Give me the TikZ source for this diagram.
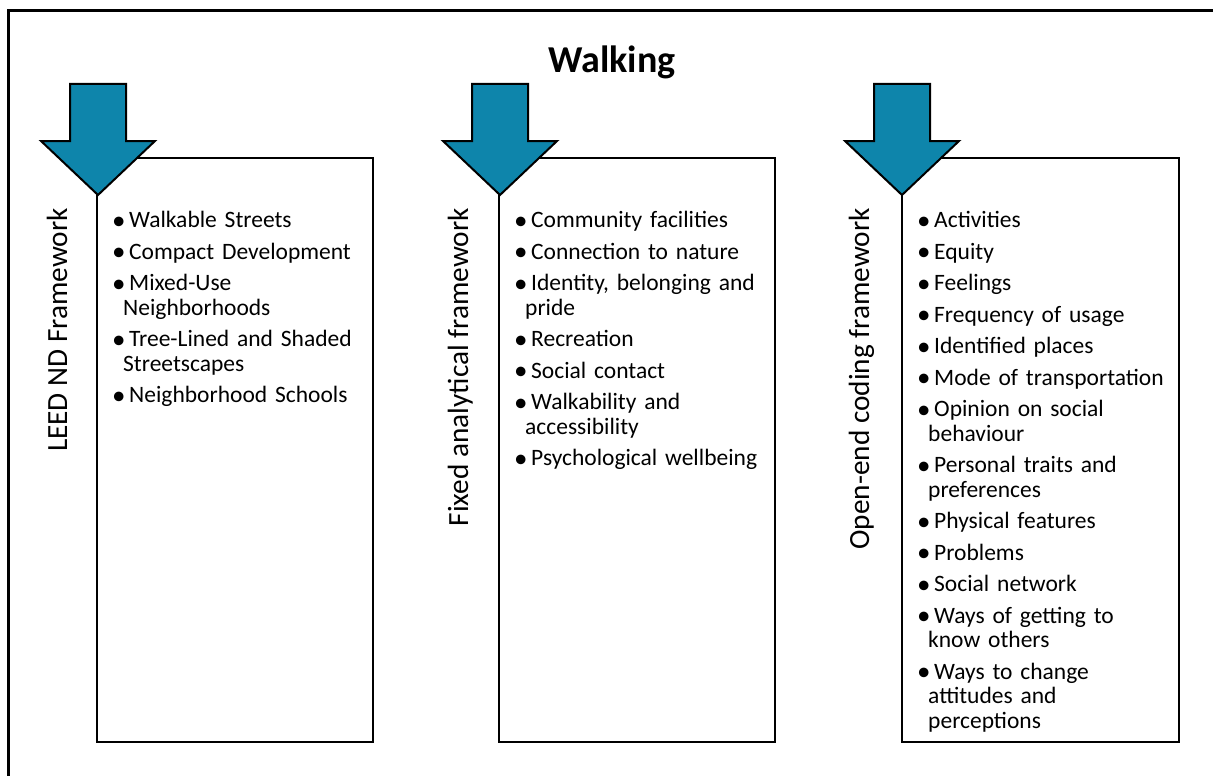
\documentclass[tikz,border=0pt]{standalone}
\usepackage{fontspec}
\setmainfont{Carlito}
\usepackage{xcolor}
\usepackage{tikz}

\definecolor{arrowblue}{RGB}{14,133,171}

% one bullet point with hanging indent
\newcommand{\bigbullet}{\raisebox{-1.5pt}{\fontsize{27}{27}\selectfont\textbullet}}
\newcommand{\bitem}[1]{\par\noindent\hangindent=11pt\hangafter=1\rule{0pt}{18pt}\makebox[11pt][l]{\bigbullet}\hspace{6pt}#1}
\newcommand{\listfont}{\fontsize{23.5}{24.5}\selectfont\setlength{\parskip}{7pt}}

\tikzset{
  framebox/.style={draw=black, line width=2.2pt, outer sep=0pt, anchor=north west, minimum width=276pt, minimum height=584pt},
  bluearrow/.style={fill=arrowblue, draw=black, line width=2pt, line join=miter},
  framelabel/.style={rotate=90, anchor=base east, inner sep=0pt, font=\fontsize{29.3}{29.3}\selectfont},
  itemlist/.style={anchor=north west, inner sep=0pt, text width=262pt, align=left, font=\listfont}
}

\begin{document}
\begin{tikzpicture}[x=1pt,y=-1pt]
\useasboundingbox (0,0) rectangle (1213,776);
\draw[line width=3pt] (8,780) -- (8,11) -- (1217,11);
\node[anchor=base, font=\fontsize{38}{38}\selectfont\bfseries] (title) at (612,73) {Walking};

% the three boxes
\node[framebox] (leed) at (97,158) {};
\node[framebox] (fixed) at (499,158) {};
\node[framebox, minimum width=277pt] (openend) at (902,158) {};

% arrows on top of the boxes
\foreach \cx in {98,500,902}
  \draw[bluearrow] (\cx-28,84) -- (\cx+28,84) -- (\cx+28,141) -- (\cx+57,141) -- (\cx,195) -- (\cx-57,141) -- (\cx-28,141) -- cycle;

\node[framelabel] (leedlabel) at (67,208) {LEED ND Framework};
\node[framelabel] (fixedlabel) at (468,208) {Fixed analytical framework};
\node[framelabel] (openendlabel) at (869,208) {Open-end coding framework};

\node[itemlist] (leeditems) at (112,196) {%
  \bitem{Walkable Streets}
  \bitem{Compact Development}
  \bitem{Mixed-Use\newline Neighborhoods}
  \bitem{Tree-Lined and Shaded\newline Streetscapes}
  \bitem{Neighborhood Schools}\par};
\node[itemlist] (fixeditems) at (514,196) {%
  \bitem{Community facilities}
  \bitem{Connection to nature}
  \bitem{Identity, belonging and\newline pride}
  \bitem{Recreation}
  \bitem{Social contact}
  \bitem{Walkability and\newline accessibility}
  \bitem{Psychological wellbeing}\par};
\node[itemlist] (openenditems) at (917,196) {%
  \bitem{Activities}
  \bitem{Equity}
  \bitem{Feelings}
  \bitem{Frequency of usage}
  \bitem{Identified places}
  \bitem{Mode of transportation}
  \bitem{Opinion on social\newline behaviour}
  \bitem{Personal traits and\newline preferences}
  \bitem{Physical features}
  \bitem{Problems}
  \bitem{Social network}
  \bitem{Ways of getting to\newline know others}
  \bitem{Ways to change\newline attitudes and\newline perceptions}\par};
\end{tikzpicture}
\end{document}
